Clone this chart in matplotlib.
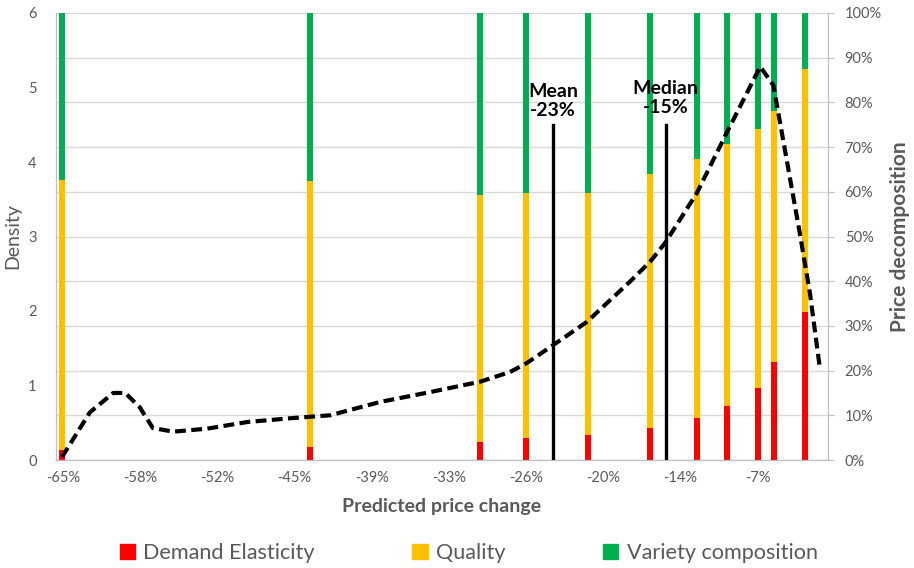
import numpy as np
import matplotlib.pyplot as plt
from matplotlib.patches import Patch

plt.rcParams['font.family'] = ['Lato', 'DejaVu Sans']

# Bar positions (predicted price change, %) and price decomposition shares (%)
bar_x = [-65.1, -44.4, -30.2, -26.35, -21.2, -16.0, -12.1, -9.6, -7.0, -5.65, -3.1]
demand = [2.2, 2.8, 4.0, 4.9, 5.6, 7.2, 9.5, 12.1, 16.0, 22.0, 33.2]
quality_top = [62.6, 62.4, 59.3, 59.7, 59.8, 63.9, 67.4, 70.7, 74.0, 78.1, 87.5]
quality = [q - d for q, d in zip(quality_top, demand)]
variety = [100 - q for q in quality_top]

# Density curve
dens_x = [-65.08, -62.75, -60.8, -59.8, -58.6, -57.5, -55.8, -53.0, -49.6, -46.05,
          -44.4, -42.7, -38.5, -34.4, -30.2, -27.7, -26.3, -24.1, -21.3, -17.7,
          -16.0, -14.75, -12.1, -9.6, -6.8, -5.7, -3.5, -2.65, -1.8]
dens_y = [0.04, 0.64, 0.90, 0.90, 0.71, 0.43, 0.38, 0.42, 0.51, 0.56,
          0.58, 0.60, 0.78, 0.91, 1.05, 1.18, 1.30, 1.54, 1.85, 2.39,
          2.66, 2.91, 3.58, 4.39, 5.28, 5.03, 3.05, 2.24, 1.21]

# Mean / median markers
mean_x, median_x = -24.1, -14.7
marker_top = 4.5

tick_labels = ['-65%', '-58%', '-52%', '-45%', '-39%', '-33%', '-26%', '-20%', '-14%', '-7%']
tick_pos = np.linspace(-65, -7, len(tick_labels))

gray = '#595959'
c_red, c_orange, c_green = '#FF0000', '#FFC000', '#00B050'

fig = plt.figure(figsize=(9.14, 5.68), dpi=100)
ax = fig.add_axes([56/914, 1 - 460/568, (828 - 56)/914, (460 - 13)/568])
ax2 = ax.twinx()

# bars on right axis
w = 0.5
ax2.bar(bar_x, demand, width=w, color=c_red, zorder=2)
ax2.bar(bar_x, quality, width=w, bottom=demand, color=c_orange, zorder=2)
ax2.bar(bar_x, variety, width=w, bottom=quality_top, color=c_green, zorder=2)
ax2.set_ylim(0, 100)
ax2.set_yticks(np.arange(0, 101, 10))
ax2.set_yticklabels([f'{v}%' for v in range(0, 101, 10)])
ax2.yaxis.grid(True, color='#d9d9d9', lw=1)
ax2.set_axisbelow(True)
ax2.tick_params(axis='y', length=4, color='#bfbfbf', labelcolor=gray, labelsize=10.5, pad=8)
ax2.set_ylabel('Price decomposition', color=gray, fontsize=15, fontweight='bold', labelpad=6)

# density curve + mean/median on left axis, drawn above bars
ax.set_zorder(ax2.get_zorder() + 1)
ax.patch.set_visible(False)
ax.plot(dens_x, dens_y, color='black', lw=3, ls=(0, (2.6, 1.3)), solid_capstyle='butt')
ax.plot([mean_x, mean_x], [0, marker_top], color='black', lw=2.4)
ax.plot([median_x, median_x], [0, marker_top], color='black', lw=2.4)
ax.text(mean_x, 4.58, 'Mean\n-23%', ha='center', va='bottom', fontsize=14,
        fontweight='bold', linespacing=1.15)
ax.text(median_x, 4.62, 'Median\n-15%', ha='center', va='bottom', fontsize=14,
        fontweight='bold', linespacing=1.15)

ax.set_xlim(-65.58, -1.14)
ax.set_ylim(0, 6)
ax.set_xticks(tick_pos)
ax.set_xticklabels(tick_labels)
ax.tick_params(axis='x', length=0, labelcolor=gray, labelsize=10.5, pad=8)
ax.tick_params(axis='y', length=0, labelcolor=gray, labelsize=10.5, pad=14)
ax.set_ylabel('Density', color=gray, fontsize=14, labelpad=5)
ax.set_xlabel('Predicted price change', color=gray, fontsize=14, fontweight='bold', labelpad=9)

for a in (ax, ax2):
    a.spines['top'].set_visible(False)
    for s in ('left', 'right', 'bottom'):
        a.spines[s].set_color('#bfbfbf')

handles = [Patch(color=c_red, label='Demand Elasticity'),
           Patch(color=c_orange, label='Quality'),
           Patch(color=c_green, label='Variety composition')]
leg = fig.legend(handles=handles, loc='center', bbox_to_anchor=(0.513, 1 - 553/568), ncol=3,
                 frameon=False, fontsize=15.6, handlelength=0.7, handleheight=0.7,
                 handletextpad=0.4, columnspacing=4.5)
for t in leg.get_texts():
    t.set_color(gray)

fig.savefig('out.png', dpi=100)
